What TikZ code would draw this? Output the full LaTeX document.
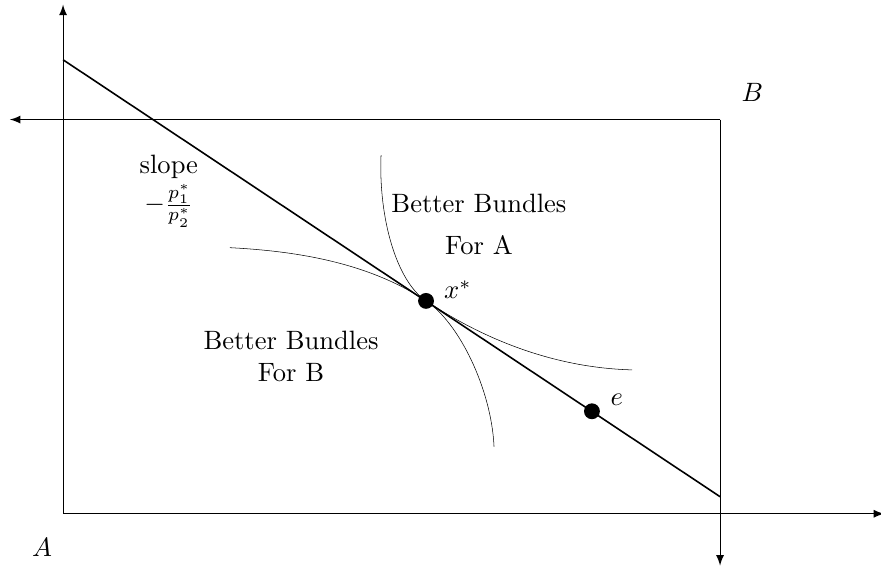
\documentclass[tikz,border=0pt]{standalone}
\begin{document}
\begin{tikzpicture}[x=0.87cm,y=0.87cm,>=latex,
	dot/.style={circle,fill=black,inner sep=0pt,minimum size=0.21cm},
	indiff/.style={very thin}]
	\useasboundingbox (-0.96,-0.81) rectangle (12.45,7.82);
	% axes of A and B
	\coordinate (A0) at (0,0);
	\coordinate (B0) at (10,6);
	\draw[->] (A0)--(0,7.75);
	\draw[->] (A0)--(12.5,0);
	\draw[->] (B0)--(-0.81,6);
	\draw[->] (B0)--(10,-0.79);
	\draw (0,6)--(B0);
	\draw (10,0)--(B0);
	% budget line
	\coordinate (P) at (0,6.91);
	\coordinate (Q) at (10,0.26);
	\draw[semithick] (P)--(Q);
	\node[dot] (xs) at (5.525,3.24) {};
	\node[dot] (e) at (8.05,1.56) {};
	% indifference curves
	\draw[indiff] (4.84,5.46) .. controls (4.8,4.5) and (5.075,3.54) .. (xs.center)
		.. controls (6.425,2.64) and (7.5,2.22) .. (8.66,2.19);
	\draw[indiff] (2.54,4.05) .. controls (3.5,4.0) and (4.625,3.84) .. (xs.center)
		.. controls (6.025,2.91) and (6.52,1.9) .. (6.56,1.02);
	\node (LA) at (-0.32,-0.52) {$A$};
	\node (LB) at (10.49,6.42) {$B$};
	\node (Lx) at (6.01,3.41) {$x^*$};
	\node (Le) at (8.43,1.74) {$e$};
	\node (S) at (1.61,5.28) {slope};
	\node (Sf) at (1.61,4.69) {$-\frac{p_1^*}{p_2^*}$};
	\node[align=center] (BA) at (6.33,4.4) {Better Bundles\\[4pt]For A};
	\node[align=center] (BB) at (3.47,2.4) {Better Bundles\\For B};
\end{tikzpicture}
\end{document}
